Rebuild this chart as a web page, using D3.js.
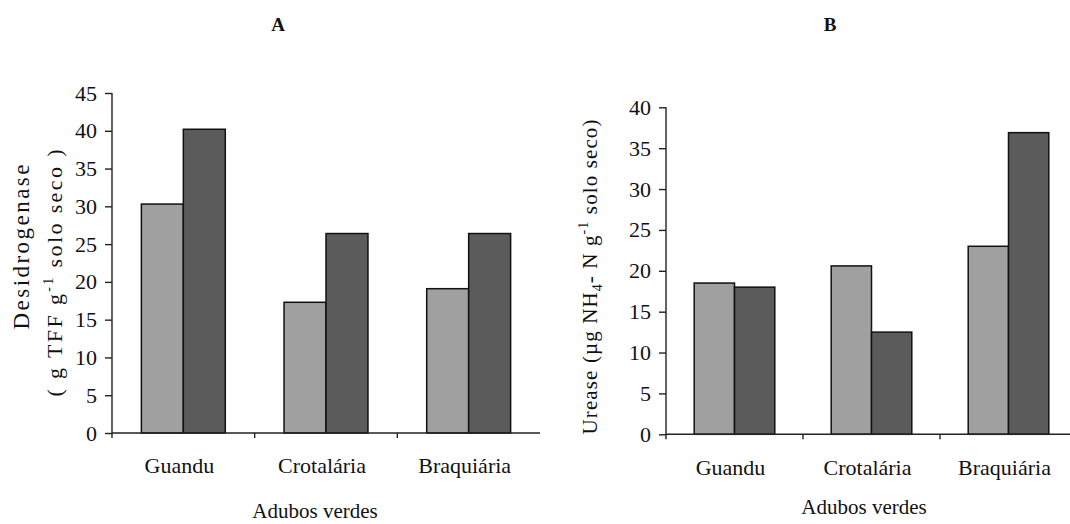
<!DOCTYPE html>
<html>
<head>
<meta charset="utf-8">
<script src="https://cdnjs.cloudflare.com/ajax/libs/d3/7.8.5/d3.min.js"></script>
<style>
  body { margin: 0; background: #fff; }
  svg text { font-family: "Liberation Serif", "Times New Roman", serif; fill: #111; }
  .axis path, .axis line { stroke: #222; stroke-width: 1.4px; }
</style>
</head>
<body>
<svg id="chart" width="1070" height="524"></svg>
<script>
// values
var categories = ["Guandu", "Crotalária", "Braquiária"];
var desidLight = [30.3, 17.3, 19.1];
var desidDark = [40.2, 26.4, 26.4];
var ureaseLight = [18.5, 20.6, 23.0];
var ureaseDark = [18.0, 12.5, 36.9];
var ticksA = [0, 5, 10, 15, 20, 25, 30, 35, 40, 45];
var ticksB = [0, 5, 10, 15, 20, 25, 30, 35, 40];
var colors = ["#a0a0a0", "#5b5b5b"];

var svg = d3.select("#chart");

function panel(cfg) {
    var g = svg.append("g");

    var x0 = d3.scaleBand()
            .domain(categories)
            .range([cfg.left, cfg.right])
            .padding(0);

    var x1 = d3.scaleBand()
            .domain([0, 1])
            .range([0, x0.bandwidth()])
            .paddingInner(0)
            .paddingOuter(0.7);

    var y = d3.scaleLinear()
            .domain([0, cfg.max])
            .range([cfg.bottom, cfg.top]);

    // bars
    var groups = g.selectAll("g.grp")
            .data(categories)
            .enter()
            .append("g")
            .attr("class", "grp")
            .attr("transform", function (d) {
                return "translate(" + x0(d) + ",0)";
            });

    groups.selectAll("rect")
            .data(function (d, i) {
                return [cfg.light[i], cfg.dark[i]];
            })
            .enter()
            .append("rect")
            .attr("x", function (d, i) { return x1(i); })
            .attr("width", x1.bandwidth())
            .attr("y", function (d) { return y(d); })
            .attr("height", function (d) { return y(0) - y(d); })
            .attr("fill", function (d, i) { return colors[i]; })
            .attr("stroke", "#111")
            .attr("stroke-width", 1.5);

    // y axis
    var yAxis = g.append("g")
            .attr("class", "axis")
            .attr("transform", "translate(" + cfg.left + ",0)")
            .call(d3.axisLeft(y).tickValues(cfg.ticks).tickSize(7).tickPadding(8).tickSizeOuter(0));
    yAxis.select(".domain").attr("d", "M0," + (cfg.top) + "V" + (cfg.bottom + 5));
    yAxis.selectAll("text")
            .style("font-size", "22px")
            .attr("font-family", null);

    // x axis: baseline, boundary ticks, category labels
    var xAxis = g.append("g").attr("class", "axis");
    xAxis.append("line")
            .attr("x1", cfg.left).attr("x2", cfg.right)
            .attr("y1", y(0)).attr("y2", y(0));
    xAxis.selectAll("line.tk")
            .data(categories.slice(1))
            .enter()
            .append("line")
            .attr("class", "tk")
            .attr("x1", function (d) { return x0(d); })
            .attr("x2", function (d) { return x0(d); })
            .attr("y1", y(0)).attr("y2", y(0) + 5);
    xAxis.selectAll("text")
            .data(categories)
            .enter()
            .append("text")
            .attr("x", function (d) { return x0(d) + x0.bandwidth() / 2 - 4; })
            .attr("y", cfg.catY)
            .attr("text-anchor", "middle")
            .style("font-size", "22px")
            .text(function (d) { return d; });

    g.append("text")
            .attr("x", cfg.xTitleX)
            .attr("y", cfg.xTitleY)
            .attr("text-anchor", "middle")
            .style("font-size", "21px")
            .text("Adubos verdes");

    g.append("text")
            .attr("x", cfg.letterX)
            .attr("y", 31)
            .attr("text-anchor", "middle")
            .style("font-size", "19px")
            .style("font-weight", "bold")
            .text(cfg.letter);
}

panel({
    letter: "A", letterX: 278,
    left: 112, right: 540, top: 93, bottom: 433, max: 45, ticks: ticksA,
    light: desidLight, dark: desidDark,
    catY: 473, xTitleX: 315, xTitleY: 518
});

panel({
    letter: "B", letterX: 830,
    left: 666, right: 1077, top: 107.3, bottom: 434.3, max: 40, ticks: ticksB,
    light: ureaseLight, dark: ureaseDark,
    catY: 475, xTitleX: 864, xTitleY: 514
});

// y axis titles
var tA1 = svg.append("text")
        .attr("transform", "translate(29,247) rotate(-90)")
        .attr("text-anchor", "middle")
        .attr("textLength", 165)
        .attr("lengthAdjust", "spacing")
        .style("font-size", "23px")
        .text("Desidrogenase");

var tA2 = svg.append("text")
        .attr("transform", "translate(62,273) rotate(-90)")
        .attr("text-anchor", "middle")
        .attr("textLength", 247)
        .attr("lengthAdjust", "spacing")
        .style("font-size", "22px");
tA2.append("tspan").text("(   g TFF g");
tA2.append("tspan").attr("dy", -9).style("font-size", "14px").text("-1");
tA2.append("tspan").attr("dy", 9).text(" solo seco )");

var tB = svg.append("text")
        .attr("transform", "translate(597,277) rotate(-90)")
        .attr("text-anchor", "middle")
        .attr("textLength", 315)
        .attr("lengthAdjust", "spacing")
        .style("font-size", "21px");
tB.append("tspan").text("Urease (µg NH");
tB.append("tspan").attr("dy", 5).style("font-size", "14px").text("4");
tB.append("tspan").attr("dy", -5).text("- N g");
tB.append("tspan").attr("dy", -9).style("font-size", "14px").text("-1");
tB.append("tspan").attr("dy", 9).text(" solo seco)");
</script>
</body>
</html>
